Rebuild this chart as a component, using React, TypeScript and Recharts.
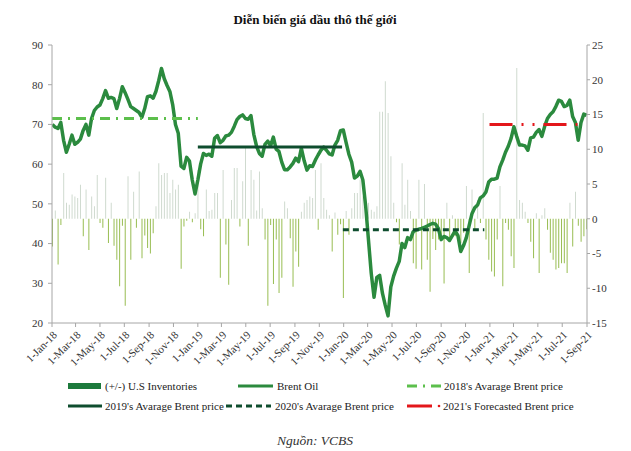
import { ComposedChart, Bar, Line, XAxis, YAxis, ReferenceLine, Cell } from 'recharts'

const FONT = "'Liberation Serif', 'DejaVu Serif', serif"
const MONTHS = ['Jan', 'Feb', 'Mar', 'Apr', 'May', 'Jun', 'Jul', 'Aug', 'Sep', 'Oct', 'Nov', 'Dec']
const ORIGIN = Date.UTC(2018, 0, 1)
const DAY_MS = 86400000

// x axis labels (every 2 months)
const tickLabels = [
  '1-Jan-18', '1-Mar-18', '1-May-18', '1-Jul-18', '1-Sep-18', '1-Nov-18',
  '1-Jan-19', '1-Mar-19', '1-May-19', '1-Jul-19', '1-Sep-19', '1-Nov-19',
  '1-Jan-20', '1-Mar-20', '1-May-20', '1-Jul-20', '1-Sep-20', '1-Nov-20',
  '1-Jan-21', '1-Mar-21', '1-May-21', '1-Jul-21', '1-Sep-21',
]
const leftTicks = [20, 30, 40, 50, 60, 70, 80, 90]
const rightTicks = [-15, -10, -5, 0, 5, 10, 15, 20, 25]

// weekly series, first week = 2-Jan-18
const firstWeek = '2-Jan-18'

// Brent oil, USD/bbl (left axis)
const brent2018 = [
  70.0, 69.3, 69.0, 70.5, 66.0, 63.0, 65.0, 67.3, 65.0, 65.5,
  66.3, 68.5, 70.0, 67.3, 71.5, 73.5, 74.4, 74.9, 76.5, 78.5,
  76.6, 76.8, 76.5, 74.0, 76.5, 79.5, 78.0, 76.3, 74.5, 74.0,
  73.5, 73.0, 71.8, 74.0, 77.0, 77.2, 76.6, 78.3, 81.0, 84.1,
  81.5, 79.8, 78.3, 75.0, 70.0, 67.8, 59.5, 58.9, 61.7, 60.8,
  56.0, 52.5,
]
const brent2019 = [
  56.0, 60.0, 62.7, 62.2, 62.5, 62.0, 66.5, 67.2, 65.4, 66.0,
  67.1, 67.3, 68.0, 69.5, 71.2, 72.0, 72.4, 71.5, 71.3, 72.2,
  67.5, 64.5, 62.7, 62.0, 65.0, 65.8, 64.6, 66.8, 63.8, 63.2,
  60.5, 58.6, 58.6, 59.3, 60.2, 61.5, 60.6, 64.0, 60.9, 58.5,
  59.6, 59.4, 61.0, 62.3, 63.5, 64.3, 63.5, 62.6, 62.3, 64.8,
  66.0, 68.4,
]
const brent2020 = [
  68.6, 65.5, 62.5, 60.5, 56.5, 57.0, 58.2, 56.0, 49.5, 41.0,
  32.5, 26.5, 31.5, 32.0, 27.5, 24.5, 21.8, 29.1, 31.8, 33.8,
  35.5, 40.0, 39.0, 41.5, 41.0, 43.0, 43.4, 43.6, 43.8, 44.1,
  44.4, 44.8, 45.1, 44.9, 43.8, 41.0, 41.8, 41.5, 40.8, 42.0,
  43.2, 42.0, 38.0, 39.5, 41.5, 44.5, 47.5, 49.0, 49.7, 51.5,
  52.0, 53.0,
]
const brent2021 = [
  55.5, 56.2, 56.2, 56.5, 59.3, 61.0, 63.0, 64.5, 66.5, 69.4,
  67.0, 64.8, 64.8, 64.6, 63.5, 66.6, 66.8, 68.0, 68.7, 67.0,
  69.5, 71.5, 72.5, 73.2, 74.5, 76.1, 75.8, 74.5, 74.8, 76.1,
  72.0, 70.5, 66.0, 70.5, 72.6, 72.3,
]

// (+/-) U.S inventories, weekly change (right axis)
const inv2018 = [
  -4.0, 1.2, -6.6, -0.9, 6.6, 2.3, 2.0, 3.5, 3.2, 3.0,
  4.9, -2.5, 4.2, -4.5, 3.2, 1.8, 6.3, -0.6, -1.3, 5.9,
  -3.5, 2.3, -3.9, -5.9, -9.7, -1.0, -12.5, 6.1, -5.9, 3.9,
  -1.3, 6.8, -5.7, -2.4, -4.2, -5.0, -2.1, 1.8, 8.0, 6.3,
  6.6, 6.6, 3.7, 5.6, 4.2, 4.9, -7.2, -1.1, -0.3, 1.0,
  -0.5, 0.8,
]
const inv2019 = [
  7.0, -1.5, -2.5, 4.2, 1.1, 1.3, 3.7, 3.7, -8.5, 7.0,
  -3.7, -9.5, 2.7, 7.3, 7.3, -1.1, 5.4, 10.2, -3.9, 7.0,
  5.6, 1.2, 6.8, 1.5, -3.0, -12.5, -0.9, -9.4, -3.0, -10.7,
  -8.5, 2.5, 1.5, -2.8, -9.8, -4.7, -6.9, 1.0, 2.3, 2.7,
  3.2, 3.0, 7.0, -1.6, 8.0, 3.0, 1.3, 0.5, -4.7, 0.9,
  -2.3, -0.8,
]
const inv2020 = [
  -11.4, 1.1, -2.3, 1.5, 3.7, 3.7, 5.6, 3.2, 1.0, 2.3,
  1.3, 1.0, 1.8, 15.4, 15.4, 19.8, 15.2, 9.0, 2.3, -0.5,
  -3.7, 8.0, 2.0, 5.6, 1.1, -6.4, -7.2, 5.6, -7.3, 5.0,
  -5.9, -10.5, -2.9, -4.5, -3.0, -2.8, -9.3, 2.3, -3.0, 0.5,
  -2.5, -1.6, -3.5, -2.0, 4.7, -7.8, 4.2, -1.6, 2.7, -0.6,
  15.2, -3.0,
]
const inv2021 = [
  -5.9, -7.6, -8.3, -3.0, 4.7, -9.7, -0.6, -1.6, -5.4, -7.1,
  21.7, 2.7, 2.3, 1.0, -0.6, -3.3, -5.7, 0.8, -7.8, 0.5,
  1.5, -1.6, -4.9, -5.9, -7.3, -7.1, -6.4, -6.4, -7.8, 2.3,
  -4.0, 3.9, -1.0, -3.3, -2.5, -1.5,
]

// yearly average / forecast lines
const avgValues = [71.5, 64.3, 43.5, 70.0]
const avgFrom = ['1-Jan-18', '1-Jan-19', '30-Dec-19', '31-Dec-20']
const avgTo = ['1-Jan-19', '28-Dec-19', '18-Dec-20', '20-Aug-21']

const toDay = (label: string) => {
  const [d, m, y] = label.split('-')
  return (Date.UTC(2000 + Number(y), MONTHS.indexOf(m), Number(d)) - ORIGIN) / DAY_MS
}

const brent = [...brent2018, ...brent2019, ...brent2020, ...brent2021]
const inv = [...inv2018, ...inv2019, ...inv2020, ...inv2021]
const start = toDay(firstWeek)
const rows = brent.map((p, i) => ({ day: start + 7 * i, brent: p, inv: inv[i] }))
const tickDays = tickLabels.map(toDay)

const C = {
  axis: '#a6a6a6',
  text: '#333333',
  brent: '#2b8a3e',
  avg18: '#5cbf4c',
  dark: '#0e4d2e',
  red: '#e3171b',
  pos: '#cfdacf',
  neg: '#98bd52',
  invLegend: '#1d7a3c',
}
const DASH18 = '10 6 2 6'
const DASH20 = '6 4'
const DASH21 = '23 9 2 9 2 9'

const avgStyles = [
  { stroke: C.avg18, dash: DASH18 },
  { stroke: C.dark, dash: undefined },
  { stroke: C.dark, dash: DASH20 },
  { stroke: C.red, dash: DASH21 },
]

const serif = { fontFamily: FONT }

function DateTick({ x, y, payload }: any) {
  const label = tickLabels[tickDays.indexOf(payload.value)]
  const tx = x + 3
  const ty = y + 4
  return (
    <text
      x={tx}
      y={ty}
      transform={`rotate(-45 ${tx} ${ty})`}
      textAnchor="end"
      dy="0.35em"
      fontSize={11}
      fill={C.text}
      style={serif}
    >
      {label}
    </text>
  )
}

function NumTick({ x, y, payload, textAnchor }: any) {
  return (
    <text x={x} y={y} dy="0.35em" textAnchor={textAnchor} fontSize={11} fill={C.text} style={serif}>
      {payload.value}
    </text>
  )
}

export default function App() {
  return (
    <div style={{ position: 'absolute', left: 0, top: 0, width: 631, height: 451, background: '#fff', fontFamily: FONT }}>
      <div style={{ position: 'absolute', left: 0, top: 0 }}>
        <ComposedChart width={631} height={375} data={rows} margin={{ top: 45, right: 0, bottom: 0, left: 0 }}>
          <XAxis
            dataKey="day"
            type="number"
            domain={[0, 1339]}
            ticks={tickDays}
            interval={0}
            tick={<DateTick />}
            tickSize={4}
            tickMargin={2}
            stroke={C.axis}
            height={52}
            allowDataOverflow
          />
          <YAxis
            yAxisId="left"
            domain={[20, 90]}
            ticks={leftTicks}
            interval={0}
            width={52}
            tickSize={4}
            tickMargin={5}
            stroke={C.axis}
            tick={<NumTick />}
          />
          <YAxis
            yAxisId="right"
            orientation="right"
            domain={[-15, 25]}
            ticks={rightTicks}
            interval={0}
            width={44}
            tickSize={3}
            tickMargin={2}
            stroke={C.axis}
            tick={<NumTick />}
          />
          <Bar yAxisId="right" dataKey="inv" barSize={1} isAnimationActive={false}>
            {rows.map((r, i) => (
              <Cell key={i} fill={r.inv >= 0 ? C.pos : C.neg} />
            ))}
          </Bar>
          <Line
            yAxisId="left"
            type="linear"
            dataKey="brent"
            stroke={C.brent}
            strokeWidth={3.5}
            strokeLinejoin="round"
            dot={false}
            isAnimationActive={false}
          />
          {avgValues.map((v, i) => (
            <ReferenceLine
              key={i}
              yAxisId="left"
              segment={[{ x: toDay(avgFrom[i]), y: v }, { x: toDay(avgTo[i]), y: v }]}
              stroke={avgStyles[i].stroke}
              strokeWidth={3}
              strokeDasharray={avgStyles[i].dash}
            />
          ))}
        </ComposedChart>
      </div>
      <svg width={631} height={451} style={{ position: 'absolute', left: 0, top: 0, pointerEvents: 'none' }}>
        <text x={315} y={19} textAnchor="middle" dominantBaseline="central" fontSize={13} fontWeight="bold" fill="#111" style={serif}>
          Diễn biến giá dầu thô thế giới
        </text>
        <g fontSize={11} fill="#222" style={serif}>
          <rect x={68} y={383} width={33} height={6} fill={C.invLegend} />
          <text x={105} y={386} dominantBaseline="central">(+/-) U.S Inventories</text>
          <line x1={238} x2={273} y1={386} y2={386} stroke={C.brent} strokeWidth={3} />
          <text x={277} y={386} dominantBaseline="central">Brent Oil</text>
          <line x1={407} x2={442} y1={386} y2={386} stroke={C.avg18} strokeWidth={3} strokeDasharray={DASH18} />
          <text x={444} y={386} dominantBaseline="central">2018's Avarage Brent price</text>
          <line x1={68} x2={102} y1={406} y2={406} stroke={C.dark} strokeWidth={3} />
          <text x={105} y={406} dominantBaseline="central">2019's Avarage Brent price</text>
          <line x1={226} x2={271} y1={406} y2={406} stroke={C.dark} strokeWidth={3} strokeDasharray={DASH20} />
          <text x={275} y={406} dominantBaseline="central">2020's Avarage Brent price</text>
          <line x1={407} x2={432} y1={406} y2={406} stroke={C.red} strokeWidth={3} />
          <circle cx={439} cy={406} r={1.3} fill={C.red} />
          <text x={443} y={406} dominantBaseline="central">2021's Forecasted Brent price</text>
        </g>
        <text x={315} y={440} textAnchor="middle" dominantBaseline="central" fontSize={13.5} fontStyle="italic" fill="#333" style={serif}>
          Nguồn: VCBS
        </text>
      </svg>
    </div>
  )
}
